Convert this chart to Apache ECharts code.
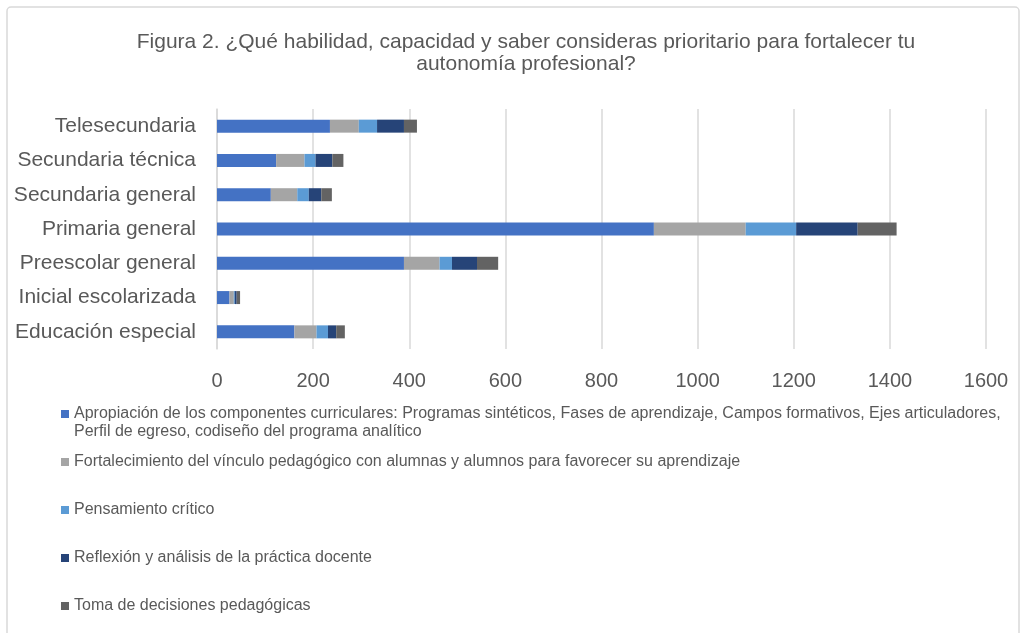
<!DOCTYPE html>
<html>
<head>
<meta charset="utf-8">
<script src="https://cdn.jsdelivr.net/npm/echarts@6/dist/echarts.min.js"></script>
<style>
  html, body { margin: 0; padding: 0; background: #fff; }
  #grafico { width: 1026px; height: 633px; }
</style>
</head>
<body>
<div id="grafico"></div>
<script>
// Niveles educativos (de abajo hacia arriba, como en el original)
const niveles = ['Educación especial', 'Inicial escolarizada', 'Preescolar general', 'Primaria general', 'Secundaria general', 'Secundaria técnica', 'Telesecundaria'];

const nombresSeries = [
    'Apropiación de los componentes curriculares: Programas sintéticos, Fases de aprendizaje, Campos formativos, Ejes articuladores, Perfil de egreso, codiseño del programa analítico',
    'Fortalecimiento del vínculo pedagógico con alumnas y alumnos para favorecer su aprendizaje',
    'Pensamiento crítico',
    'Reflexión y análisis de la práctica docente',
    'Toma de decisiones pedagógicas'
];

const apropiacion     = [161, 26, 389, 909, 112, 123, 235];
const fortalecimiento = [46, 9, 74, 191, 55, 59, 60];
const pensamiento     = [24, 2, 26, 105, 24, 23, 38];
const reflexion       = [17, 4, 52, 128, 26, 35, 56];
const tomaDecisiones  = [18, 7, 44, 81, 22, 23, 27];

const ticksX = { min: 0, max: 1600, intervalo: 200 };

const colores = ['#4472C4', '#A5A5A5', '#5B9BD5', '#264478', '#636363'];
const fuente = 'Arial, "Liberation Sans", sans-serif';

const grafico = echarts.init(document.getElementById('grafico'));

const datosSeries = [apropiacion, fortalecimiento, pensamiento, reflexion, tomaDecisiones];

const opciones = {
    backgroundColor: '#ffffff',
    animation: false,
    textStyle: { fontFamily: fuente },
    title: {
        text: 'Figura 2. ¿Qué habilidad, capacidad y saber consideras prioritario para fortalecer tu\nautonomía profesional?',
        left: 526,          // con textAlign 'center' es el centro del texto
        textAlign: 'center',
        top: 31,
        padding: 0,
        textStyle: {
            fontFamily: fuente,
            fontSize: 21,
            lineHeight: 22,
            fontWeight: 'normal',
            color: '#595959'
        }
    },
    graphic: [{
        type: 'rect',
        shape: { x: 7, y: 7, width: 1012, height: 640, r: 4 },
        style: { fill: 'none', stroke: '#d9d9d9', lineWidth: 1.5 },
        silent: true
    }],
    legend: [
        {
            // primer elemento: texto en dos líneas; la línea en blanco arriba deja el icono junto a la primera
            data: [nombresSeries[0]],
            orient: 'vertical',
            left: 61,
            top: 387,
            padding: 0,
            icon: 'rect',
            itemWidth: 8,
            itemHeight: 8,
            formatter: () => '\nApropiación de los componentes curriculares: Programas sintéticos, Fases de aprendizaje, Campos formativos, Ejes articuladores,\nPerfil de egreso, codiseño del programa analítico',
            textStyle: {
                fontFamily: fuente,
                fontSize: 16,
                lineHeight: 18,
                color: '#595959'
            }
        },
        {
            data: nombresSeries.slice(1),
            orient: 'vertical',
            left: 61,
            top: 453,
            padding: 0,
            itemGap: 30,
            icon: 'rect',
            itemWidth: 8,
            itemHeight: 8,
            textStyle: {
                fontFamily: fuente,
                fontSize: 16,
                lineHeight: 18,
                color: '#595959'
            }
        }
    ],
    grid: {
        left: 217,
        right: 40,
        top: 109,
        bottom: 284,
        containLabel: false
    },
    xAxis: {
        type: 'value',
        min: ticksX.min,
        max: ticksX.max,
        interval: ticksX.intervalo,
        axisLine: { show: false },
        axisTick: { show: false },
        axisLabel: {
            fontFamily: fuente,
            fontSize: 20,
            color: '#595959',
            margin: 22,
            formatter: v => String(v)
        },
        splitLine: { lineStyle: { color: '#d9d9d9', width: 1.5 } }
    },
    yAxis: {
        type: 'category',
        data: niveles,
        axisLine: { show: true, lineStyle: { color: '#d9d9d9', width: 1.5 } },
        axisTick: { show: false },
        axisLabel: {
            fontFamily: fuente,
            fontSize: 21,
            color: '#595959',
            margin: 21
        }
    },
    series: datosSeries.map((valores, i) => ({
        name: nombresSeries[i],
        type: 'bar',
        stack: 'total',
        barWidth: 13,
        data: valores,
        itemStyle: { color: colores[i] }
    }))
};

grafico.setOption(opciones);
</script>
</body>
</html>
